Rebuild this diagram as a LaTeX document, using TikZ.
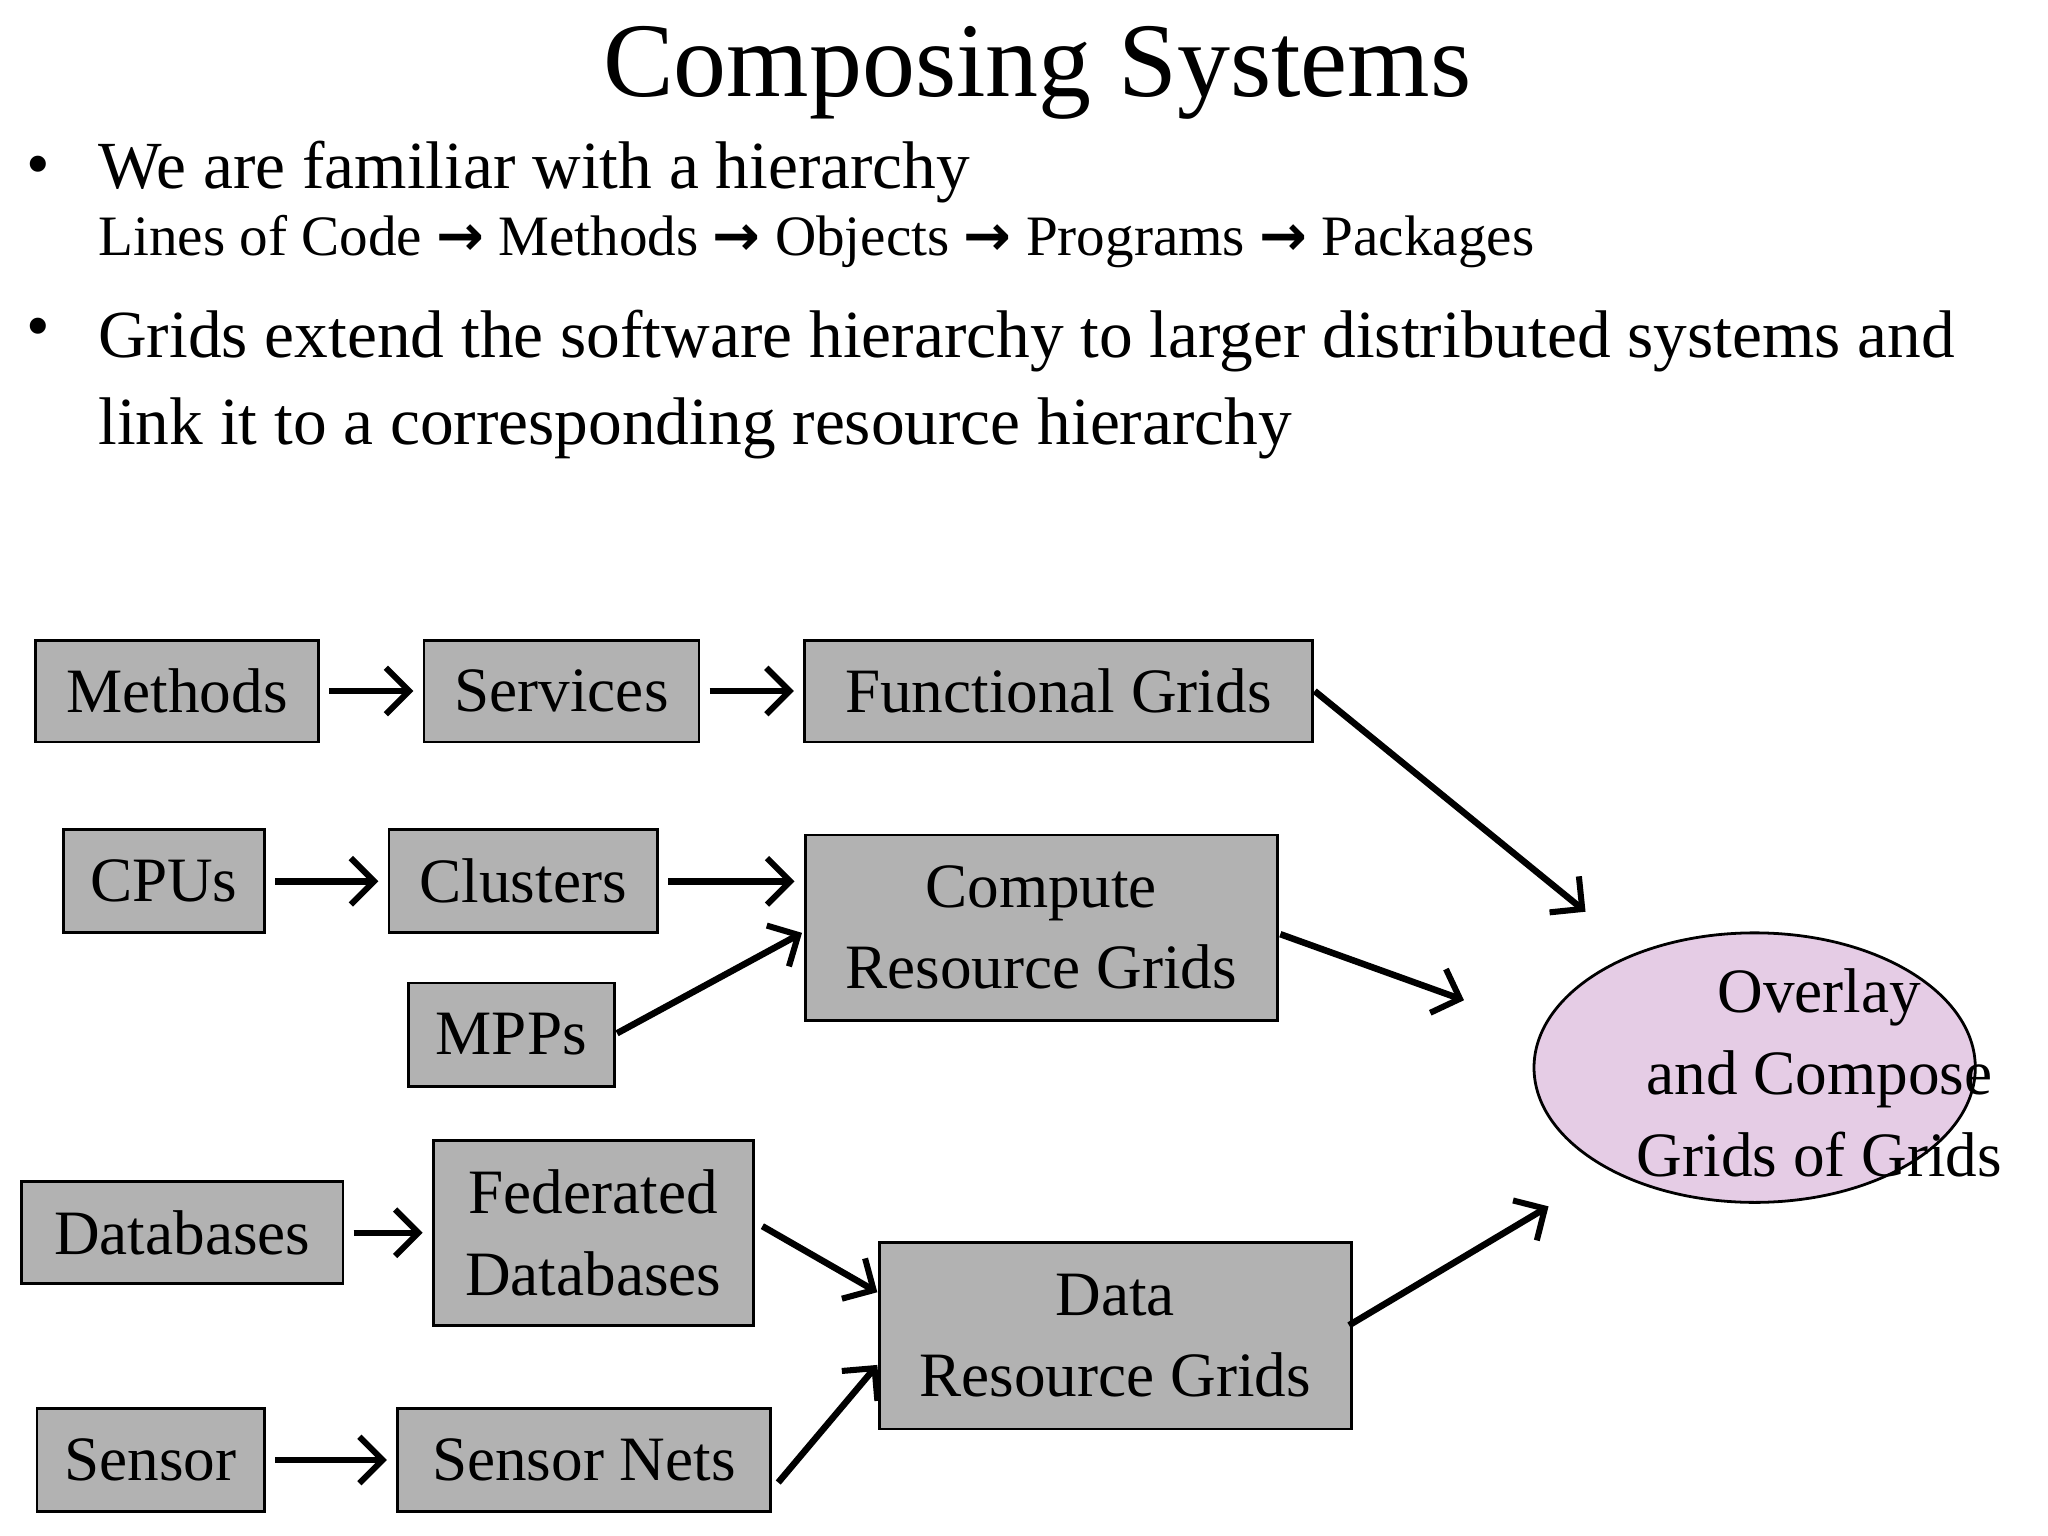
\documentclass[tikz,border=0pt]{standalone}
\usepackage{fontspec}
\setmainfont{Liberation Serif}
\newfontfamily\symfont{DejaVu Sans}
\usetikzlibrary{arrows.meta}
\begin{document}
\begin{tikzpicture}[x=0.01cm,y=-0.01cm,
  box/.style={draw=black,line width=0.6pt,fill=black!30,inner sep=0pt,font=\fontsize{13.6pt}{17.5pt}\selectfont,align=center},
  conn/.style={line width=1.4pt,-{Straight Barb[length=5pt,width=10pt,line width=1.3pt]},shorten <=2pt,shorten >=2pt}]
\useasboundingbox (0,0) rectangle (1550,1162);
\node[font=\fontsize{22.8pt}{26pt}\selectfont] (title) at (785,55) {Composing Systems};
\node[anchor=west,font=\fontsize{14.5pt}{16pt}\selectfont] (b1) at (8,130) {•};
\node[anchor=west,font=\fontsize{14.5pt}{16pt}\selectfont] (t1) at (62,130) {We are familiar with a hierarchy};
\node[anchor=west,font=\fontsize{12.3pt}{13pt}\selectfont] (t2) at (62,183) {Lines of Code {\symfont\bfseries →} Methods {\symfont\bfseries →} Objects {\symfont\bfseries →} Programs {\symfont\bfseries →} Packages};
\node[anchor=west,font=\fontsize{14.5pt}{16pt}\selectfont] (b2) at (8,252) {•};
\node[anchor=north west,align=left,font=\fontsize{14.5pt}{18.7pt}\selectfont] (t3) at (62,222) {Grids extend the software hierarchy to larger distributed systems and\\link it to a corresponding resource hierarchy};

\node[box,minimum width=2.14cm,minimum height=0.77cm] (meth) at (134,523) {Methods};
\node[box,minimum width=2.08cm,minimum height=0.77cm] (serv) at (425,523) {Services};
\node[box,minimum width=3.84cm,minimum height=0.77cm] (func) at (801,523) {Functional Grids};
\node[box,minimum width=1.52cm,minimum height=0.78cm] (cpu) at (124,667) {CPUs};
\node[box,minimum width=2.03cm,minimum height=0.78cm] (clus) at (396,667) {Clusters};
\node[box,minimum width=3.57cm,minimum height=1.40cm] (comp) at (788,702) {Compute\\Resource Grids};
\node[box,minimum width=1.56cm,minimum height=0.78cm] (mpp) at (387,783) {MPPs};
\node[box,minimum width=2.43cm,minimum height=0.77cm] (db) at (138,933) {Databases};
\node[box,minimum width=2.42cm,minimum height=1.40cm] (fed) at (449,933) {Federated\\Databases};
\node[box,minimum width=3.57cm,minimum height=1.41cm] (data) at (844,1011) {Data\\Resource Grids};
\node[box,minimum width=1.72cm,minimum height=0.78cm] (sens) at (114,1105) {Sensor};
\node[box,minimum width=2.82cm,minimum height=0.78cm] (snet) at (442,1105) {Sensor Nets};

\draw[line width=0.6pt,fill=violet!20] (1328,808) ellipse [x radius=167,y radius=102];
\node[align=center,font=\fontsize{13.6pt}{17.6pt}\selectfont] (ov) at (1377,812) {Overlay\\and Compose\\Grids of Grids};

\coordinate (e1) at (1200,690);
\coordinate (e2) at (1108,757);
\coordinate (e3) at (1172,913);
\coordinate (mppS) at (467,782);
\coordinate (compW2) at (607,706);
\coordinate (compE) at (969,707);
\coordinate (funcE) at (995,523);
\coordinate (fedE) at (577,928);
\coordinate (dataW1) at (664,978);
\coordinate (snetE) at (589,1122);
\coordinate (dataW2) at (664,1033);
\coordinate (dataE) at (1021,1003);

\draw[conn] (meth.east) -- (serv.west);
\draw[conn] (serv.east) -- (func.west);
\draw[conn,shorten <=0pt,shorten >=0pt] (funcE) -- (e1);
\draw[conn] (cpu.east) -- (clus.west);
\draw[conn] (clus.east) -- (clus.east -| comp.west);
\draw[conn,shorten <=0pt,shorten >=0pt] (mppS) -- (compW2);
\draw[conn,shorten <=0pt,shorten >=0pt] (compE) -- (e2);
\draw[conn] (db.east) -- (db.east -| fed.west);
\draw[conn,shorten <=0pt,shorten >=0pt] (fedE) -- (dataW1);
\draw[conn] (sens.east) -- (snet.west);
\draw[conn,shorten <=0pt,shorten >=0pt] (snetE) -- (dataW2);
\draw[conn,shorten <=0pt,shorten >=0pt] (dataE) -- (e3);
\end{tikzpicture}
\end{document}
